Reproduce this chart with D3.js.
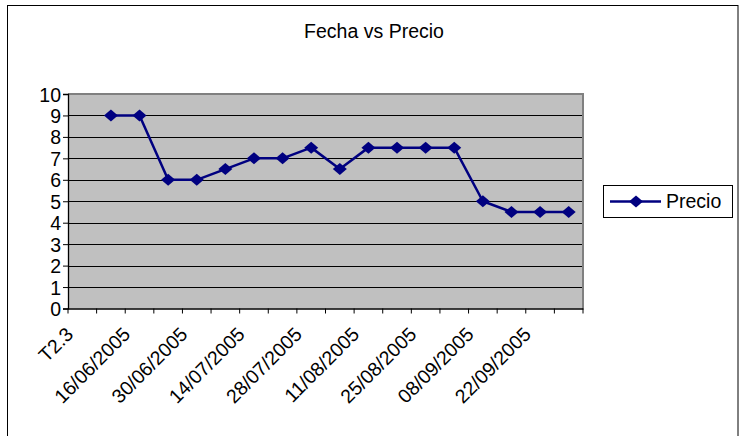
<!DOCTYPE html>
<html>
<head>
<meta charset="utf-8">
<script src="https://cdn.jsdelivr.net/npm/d3@7"></script>
<style>
  html, body { margin: 0; padding: 0; background: #fff; }
  svg { display: block; }
  text { font-family: Arial, "Liberation Sans", sans-serif; }
</style>
</head>
<body>
<svg id="chart" width="739" height="436"></svg>
<script>
// Weekly categories (first one is a text label with no value)
const categories = [
  "T2.3", "09/06/2005", "16/06/2005", "23/06/2005", "30/06/2005", "07/07/2005",
  "14/07/2005", "21/07/2005", "28/07/2005", "04/08/2005", "11/08/2005",
  "18/08/2005", "25/08/2005", "01/09/2005", "08/09/2005", "15/09/2005",
  "22/09/2005", "29/09/2005"
];
const precio = [
  null, 9, 9, 6, 6, 6.5, 7, 7, 7.5, 6.5, 7.5, 7.5, 7.5, 7.5, 5, 4.5, 4.5, 4.5
];
const yTicks = [0, 1, 2, 3, 4, 5, 6, 7, 8, 9, 10];
const seriesName = "Precio";
const title = "Fecha vs Precio";

const svg = d3.select("#chart");
const navy = "#000080";
const FONT = "Arial, 'Liberation Sans', sans-serif";
const FS = 19.5;

// diamond marker, slightly wider than tall
const diamondPath = (w, h) => `M0,${-h / 2} L${w / 2},0 L0,${h / 2} L${-w / 2},0 Z`;

// outer chart frame
svg.append("rect")
  .attr("x", 7.5).attr("y", 5.5)
  .attr("width", 730.5).attr("height", 440)
  .attr("fill", "#fff").attr("stroke", "#000").attr("stroke-width", 1);

const plot = { left: 68, right: 583, top: 94, bottom: 308.5 };

const x = d3.scaleBand()
  .domain(categories)
  .range([plot.left, plot.right])
  .padding(0);
const y = d3.scaleLinear()
  .domain([0, 10])
  .range([plot.bottom, plot.top]);

// title
svg.append("text")
  .attr("x", 374).attr("y", 37.5)
  .attr("text-anchor", "middle")
  .attr("font-size", FS)
  .text(title);

// plot background
svg.append("rect")
  .attr("x", plot.left).attr("y", plot.top)
  .attr("width", plot.right - plot.left).attr("height", plot.bottom - plot.top)
  .attr("fill", "#c0c0c0");

// horizontal gridlines
svg.append("g").selectAll("line")
  .data(yTicks.filter(d => d > 0 && d < 10))
  .join("line")
  .attr("x1", plot.left).attr("x2", plot.right)
  .attr("y1", d => Math.round(y(d)) + 0.5).attr("y2", d => Math.round(y(d)) + 0.5)
  .attr("stroke", "#000").attr("stroke-width", 1);

// plot border top/right
svg.append("path")
  .attr("d", `M${plot.left},${plot.top} H${plot.right} V${plot.bottom}`)
  .attr("fill", "none").attr("stroke", "#808080").attr("stroke-width", 2);

// y axis
const yAxis = d3.axisLeft(y)
  .tickValues(yTicks)
  .tickSize(5)
  .tickPadding(2)
  .tickFormat(d3.format("d"));
const gy = svg.append("g")
  .attr("transform", `translate(${plot.left},0)`)
  .call(yAxis);
gy.attr("font-size", null).attr("font-family", null);
gy.select(".domain").attr("stroke", "#000").attr("stroke-width", 1.3);
gy.selectAll(".tick line").attr("stroke", "#000");
gy.selectAll(".tick text")
  .attr("font-size", FS).attr("font-family", FONT)
  .attr("fill", "#000").attr("dy", "0.36em");

// x axis: ticks on category boundaries, labels on every other category
const xAxis = d3.axisBottom(x).tickSize(0).tickFormat("");
const gx = svg.append("g")
  .attr("transform", `translate(0,${plot.bottom})`)
  .call(xAxis);
gx.select(".domain").attr("stroke", "#000").attr("stroke-width", 1.3);
gx.selectAll(".tick").remove();

const boundaries = categories.map(c => x(c)).concat([x(categories[categories.length - 1]) + x.bandwidth()]);
svg.append("g").selectAll("line")
  .data(boundaries)
  .join("line")
  .attr("x1", d => d).attr("x2", d => d)
  .attr("y1", plot.bottom).attr("y2", plot.bottom + 5)
  .attr("stroke", "#000").attr("stroke-width", 1);

svg.append("g").selectAll("text")
  .data(categories.filter((c, i) => i % 2 === 0))
  .join("text")
  .attr("transform", d => `translate(${x(d) + x.bandwidth() / 2 - 8},${plot.bottom + 27}) rotate(-45)`)
  .attr("text-anchor", "end")
  .attr("font-size", FS)
  .text(d => d);

// series line
const pts = categories.map((c, i) => ({ c, v: precio[i] })).filter(d => d.v !== null);
const line = d3.line()
  .x(d => x(d.c) + x.bandwidth() / 2)
  .y(d => y(d.v));
svg.append("path")
  .datum(pts)
  .attr("d", line)
  .attr("fill", "none")
  .attr("stroke", navy)
  .attr("stroke-width", 2.5)
  .attr("stroke-linejoin", "round");

svg.append("g").selectAll("path")
  .data(pts)
  .join("path")
  .attr("transform", d => `translate(${x(d.c) + x.bandwidth() / 2},${y(d.v)})`)
  .attr("d", diamondPath(14, 12))
  .attr("fill", navy);

// legend
const lg = svg.append("g").attr("transform", "translate(603,185)");
lg.append("rect")
  .attr("x", 0.5).attr("y", 0.5).attr("width", 129).attr("height", 32)
  .attr("fill", "#fff").attr("stroke", "#000").attr("stroke-width", 1);
lg.append("line")
  .attr("x1", 7).attr("x2", 58).attr("y1", 16.5).attr("y2", 16.5)
  .attr("stroke", navy).attr("stroke-width", 2.5);
lg.append("path")
  .attr("transform", "translate(33,16.5)")
  .attr("d", diamondPath(14, 12))
  .attr("fill", navy);
lg.append("text")
  .attr("x", 63).attr("y", 23)
  .attr("font-size", FS)
  .text(seriesName);
</script>
</body>
</html>
